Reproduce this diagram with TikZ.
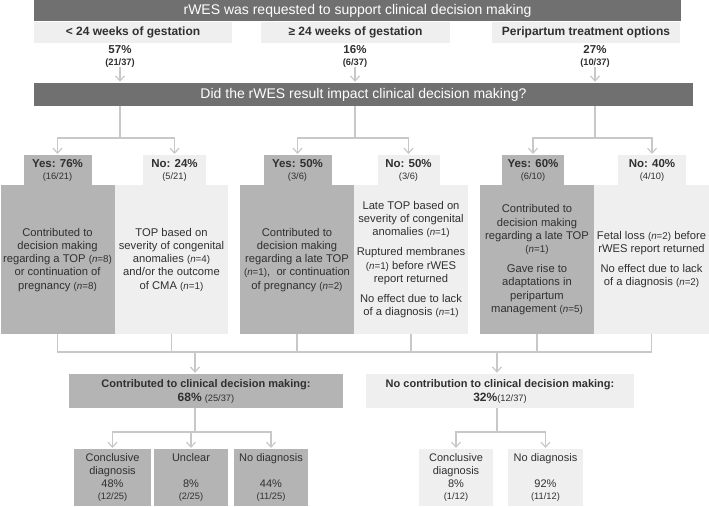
\documentclass[tikz,border=0pt]{standalone}
\usepackage{fontspec}
\setmainfont{Liberation Sans}
\usetikzlibrary{arrows.meta}
\definecolor{barfill}{HTML}{707070}
\definecolor{darkfill}{HTML}{B4B4B4}
\definecolor{lightfill}{HTML}{EFEFEF}
\definecolor{linecol}{HTML}{C8C8C8}
\definecolor{txt}{HTML}{303030}
\newcommand{\nn}[1]{{\fontsize{9.8}{12}\selectfont(\textit{n}=#1)}}
\newcommand{\frc}[1]{{\fontsize{9.3}{11}\selectfont(#1)}}

\begin{document}
\begin{tikzpicture}[x=1pt, y=-1pt,
  every node/.style={text=txt, inner sep=0pt},
  titlebar/.style={fill=barfill, text=white, font=\fontsize{14}{16}\selectfont},
  catbox/.style={fill=lightfill, font=\bfseries\fontsize{12}{14}\selectfont, minimum height=21pt},
  pct/.style={align=center, font=\bfseries\fontsize{11.5}{12}\selectfont, anchor=north},
  headdark/.style={fill=darkfill, align=center, font=\fontsize{11.5}{12.5}\selectfont, minimum height=30pt, anchor=north},
  headlight/.style={headdark, fill=lightfill},
  bodydark/.style={fill=darkfill, align=center, font=\fontsize{11.2}{13.2}\selectfont, minimum width=114pt, minimum height=149pt, anchor=north},
  bodylight/.style={bodydark, fill=lightfill},
  sumdark/.style={fill=darkfill, align=center, font=\fontsize{11}{14}\selectfont, minimum height=34pt},
  sumlight/.style={sumdark, fill=lightfill},
  diagdark/.style={fill=darkfill, align=center, font=\fontsize{11}{12.8}\selectfont, minimum height=57pt, anchor=north},
  diaglight/.style={diagdark, fill=lightfill},
  conn/.style={draw=linecol, line width=1.5pt},
  arr/.style={conn, -{Straight Barb[length=5pt, width=9pt, line width=1.2pt]}, shorten >=1pt}]
  \useasboundingbox (0,0) rectangle (709,506);

  % request and the three groups
  \node[titlebar, minimum width=647pt, minimum height=21pt] (req) at (357.5,10.5) {rWES was requested to support clinical decision making};
  \node[catbox, minimum width=198pt] (cat1) at (133,32.5) {< 24 weeks of gestation};
  \node[catbox, minimum width=189pt] (cat2) at (355.5,32.5) {≥ 24 weeks of gestation};
  \node[catbox, minimum width=188pt] (cat3) at (586,32.5) {Peripartum treatment options};
  \node[pct] (pct1) at (120,45) {57\%\\\frc{21/37}};
  \node[pct] (pct2) at (355,45) {16\%\\\frc{6/37}};
  \node[pct] (pct3) at (595,45) {27\%\\\frc{10/37}};

  % impact question
  \node[titlebar, minimum width=659pt, minimum height=23pt] (impact) at (363.5,94.5) {Did the rWES result impact clinical decision making?};
  \foreach \p in {pct1,pct2,pct3}
    \draw[arr] (\p.south) -- (\p |- impact.north);

  % yes / no headers
  \node[headdark, minimum width=68pt] (yes1) at (57.5,155) {\textbf{Yes: 76\%}\\\frc{16/21}};
  \node[headlight, minimum width=63pt] (no1) at (174.5,155) {\textbf{No: 24\%}\\\frc{5/21}};
  \node[headdark, minimum width=68pt] (yes2) at (297.5,155) {\textbf{Yes: 50\%}\\\frc{3/6}};
  \node[headlight, minimum width=62pt] (no2) at (408.5,155) {\textbf{No: 50\%}\\\frc{3/6}};
  \node[headdark, minimum width=62pt] (yes3) at (533,155) {\textbf{Yes: 60\%}\\\frc{6/10}};
  \node[headlight, minimum width=68pt] (no3) at (652,155) {\textbf{No: 40\%}\\\frc{4/10}};
  \coordinate (split) at (0,138);
  \foreach \p/\y/\n in {pct1/yes1/no1, pct2/yes2/no2, pct3/yes3/no3} {
    \draw[conn] (\p |- impact.south) -- (\p |- split);
    \draw[arr] (\p |- split) -| (\y.north);
    \draw[arr] (\p |- split) -| (\n.north);
  }

  % outcome boxes
  \node[bodydark] (b1) at (57.5,185) {Contributed to\\decision making\\regarding a TOP \nn{8}\\or continuation of\\pregnancy \nn{8}};
  \node[bodylight, minimum width=113pt] (b2) at (171.5,185) {TOP based on\\severity of congenital\\anomalies \nn{4}\\and/or the outcome\\of CMA \nn{1}};
  \node[bodydark] (b3) at (297,185) {Contributed to\\decision making\\regarding a late TOP\\\nn{1},~ or continuation\\of pregnancy \nn{2}};
  \node[bodylight] (b4) at (411,185) {Late TOP based on\\severity of congenital\\anomalies \nn{1}\\[7pt]Ruptured membranes\\\nn{1} before rWES\\report returned\\[7pt]No effect due to lack\\of a diagnosis \nn{1}};
  \node[bodydark] (b5) at (537,185) {Contributed to\\decision making\\regarding a late TOP\\\nn{1}\\[7pt]Gave rise to\\adaptations in\\peripartum\\management \nn{5}};
  \node[bodylight, minimum width=115pt] (b6) at (651.5,185) {Fetal loss \nn{2} before\\rWES report returned\\[7pt]No effect due to lack\\of a diagnosis \nn{2}};

  % merge into the two summaries
  \coordinate (merge) at (0,352);
  \draw[conn] (b1.south) |- (b6.south |- merge) -- (b6.south);
  \foreach \b in {b2,b3,b4,b5}
    \draw[conn] (\b.south) -- (\b.south |- merge);
  \node[sumdark, minimum width=274pt] (sum1) at (206,391) {\textbf{Contributed to clinical decision making:}\\{\fontsize{12}{14}\selectfont\textbf{68\%}} \frc{25/37}};
  \node[sumlight, minimum width=268pt] (sum2) at (500,391) {\textbf{No contribution to clinical decision making:}\\{\fontsize{12}{14}\selectfont\textbf{32\%}}\frc{12/37}};
  \coordinate (j1) at (195,352);
  \coordinate (j2) at (497,352);
  \draw[arr] (j1) -- (j1 |- sum1.north);
  \draw[arr] (j2) -- (j2 |- sum2.north);

  % diagnostic yield
  \node[diagdark, minimum width=77pt] (c1) at (112.5,449) {Conclusive\\diagnosis\\48\%\\\frc{12/25}};
  \node[diagdark, minimum width=74pt] (c2) at (191,449) {Unclear\\\mbox{}\\8\%\\\frc{2/25}};
  \node[diagdark, minimum width=74pt] (c3) at (271,449) {No diagnosis\\\mbox{}\\44\%\\\frc{11/25}};
  \node[diaglight, minimum width=74pt] (d1) at (456,449) {Conclusive\\diagnosis\\8\%\\\frc{1/12}};
  \node[diaglight, minimum width=75pt] (d2) at (545.5,449) {No diagnosis\\\mbox{}\\92\%\\\frc{11/12}};
  \coordinate (split2) at (0,432);
  \draw[conn] (j1 |- sum1.south) -- (j1 |- split2);
  \draw[conn] (j2 |- sum2.south) -- (j2 |- split2);
  \foreach \c in {c1,c2,c3}
    \draw[arr] (j1 |- split2) -| (\c.north);
  \foreach \d in {d1,d2}
    \draw[arr] (j2 |- split2) -| (\d.north);
\end{tikzpicture}
\end{document}
